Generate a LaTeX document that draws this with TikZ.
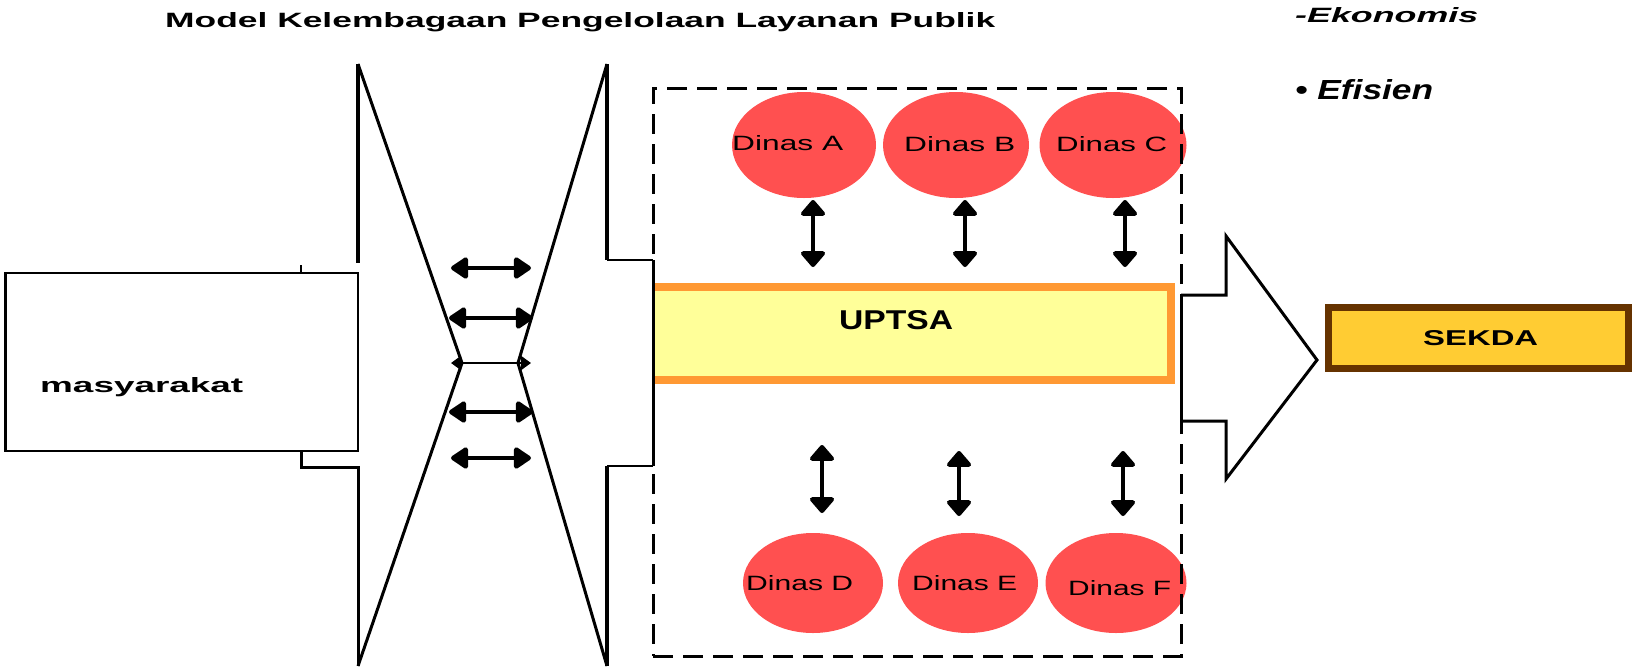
\documentclass[tikz,border=0pt]{standalone}
\usepackage{fontspec}
\setmainfont{Liberation Sans}
\usepackage{graphicx}
\usetikzlibrary{arrows.meta,shapes.geometric}
\definecolor{dinasred}{HTML}{FF5050}
\definecolor{uyellow}{HTML}{FFFF99}
\definecolor{uorange}{HTML}{FF9933}
\definecolor{sgold}{HTML}{FFCC33}
\definecolor{sbrown}{HTML}{663300}
\newcommand{\rtext}[3]{\resizebox{#1pt}{#2pt}{#3}}
\begin{document}
\begin{tikzpicture}[x=1pt,y=-1pt,
  txt/.style={inner sep=0pt, anchor=base west},
  thickline/.style={line width=4.5pt},
  outline/.style={line width=2pt},
  diag/.style={line width=3pt, line join=round},
  dinas/.style={ellipse, fill=dinasred, inner sep=0pt},
  varrow/.style={line width=4.5pt, {Triangle[width=28pt,length=17pt,round]}-{Triangle[width=28pt,length=17pt,round]}},
  harrow/.style={line width=4.5pt, {Triangle[width=24pt,length=19pt,round]}-{Triangle[width=24pt,length=19pt,round]}},
  thinarrow/.style={line width=2pt, {Triangle[width=14pt,length=10pt]}-{Triangle[width=14pt,length=10pt]}},
  dashbox/.style={draw, line width=3pt, dash pattern=on 20pt off 10pt, inner sep=0pt},
]
\useasboundingbox (0,0) rectangle (1632,670);

% title and side notes
\node[txt] (title) at (165,27) {\rtext{830}{15}{\bfseries Model Kelembagaan Pengelolaan Layanan Publik}};
\node[txt] (eko) at (1295,22) {\rtext{183}{15}{\bfseries\itshape -Ekonomis}};
\node[txt] (efi) at (1295,99) {\rtext{138}{20}{\bfseries\itshape • Efisien}};

% left block arrow (masyarakat)
\draw[thickline] (358,64) -- (358,263);
\draw[outline] (301,265) -- (301,273);
\draw[line width=3pt] (301,451) -- (301,467) -- (358,467) -- (358,666);
\draw[diag] (358,64) -- (462,363) -- (358,666);
\node[draw, outline, fill=white, inner sep=0pt, minimum width=353pt, minimum height=178pt] (masy) at (181.5,362) {};
\draw[line width=3pt] (5,273) -- (5,451);
\node[txt] (masyt) at (40,392) {\rtext{203}{15}{\bfseries masyarakat}};

% right block arrow (towards masyarakat)
\draw[thickline] (607,64) -- (607,260);
\draw[line width=2.5pt] (607,260) -- (653,260);
\draw[line width=2.5pt] (653,466) -- (607,466);
\draw[thickline] (607,466) -- (607,666);
\draw[diag] (607,64) -- (518,363) -- (607,666);

% horizontal double arrows in the waist
\coordinate (h1l) at (451,268); \coordinate (h1r) at (531,268);
\coordinate (h2l) at (449,318); \coordinate (h2r) at (533,318);
\coordinate (h3l) at (451,363); \coordinate (h3r) at (531,363);
\coordinate (h4l) at (449,412); \coordinate (h4r) at (533,412);
\coordinate (h5l) at (451,458); \coordinate (h5r) at (531,458);
\draw[harrow] (h1l) -- (h1r);
\draw[harrow] (h2l) -- (h2r);
\draw[thinarrow] (h3l) -- (h3r);
\draw[harrow] (h4l) -- (h4r);
\draw[harrow] (h5l) -- (h5r);

% Dinas ellipses
\node[dinas, minimum width=144pt, minimum height=106pt] (dA) at (804,145) {};
\node[dinas, minimum width=146pt, minimum height=106pt] (dB) at (956,145) {};
\node[dinas, minimum width=147pt, minimum height=106pt] (dC) at (1113,145) {};
\node[dinas, minimum width=140pt, minimum height=100pt] (dD) at (813,583) {};
\node[dinas, minimum width=140pt, minimum height=100pt] (dE) at (968,583) {};
\node[dinas, minimum width=141pt, minimum height=100pt] (dF) at (1116,583) {};
\node[txt] (tA) at (732,150) {\rtext{111}{15}{Dinas A}};
\node[txt] (tB) at (904,151) {\rtext{111}{15}{Dinas B}};
\node[txt] (tC) at (1056,151) {\rtext{111}{15}{Dinas C}};
\node[txt] (tD) at (746,590) {\rtext{107}{15}{Dinas D}};
\node[txt] (tE) at (912,590) {\rtext{105}{15}{Dinas E}};
\node[txt] (tF) at (1068,595) {\rtext{103}{15}{Dinas F}};

% UPTSA
\node[fill=uyellow, inner sep=0pt, minimum width=522pt, minimum height=101pt] (uptsa) at (914,333.5) {};
\draw[line width=8pt, uorange] (653,287) -- (1171,287) -- (1171,380) -- (653,380);
\node[txt] (uptsat) at (839,329) {\rtext{114}{19}{\bfseries UPTSA}};

% dashed panel
\node[dashbox, minimum width=528pt, minimum height=568pt] (panel) at (917,372) {};
\draw[line width=3pt] (653,260) -- (653,466);
\draw[line width=3pt] (1181,295) -- (1181,421);

% vertical double arrows
\coordinate (vAt) at (813,200);  \coordinate (vAb) at (813,267);
\coordinate (vBt) at (965,200);  \coordinate (vBb) at (965,267);
\coordinate (vCt) at (1125,200); \coordinate (vCb) at (1125,267);
\coordinate (vDt) at (822,445);  \coordinate (vDb) at (822,513);
\coordinate (vEt) at (959,451);  \coordinate (vEb) at (959,516);
\coordinate (vFt) at (1123,451); \coordinate (vFb) at (1123,516);
\draw[varrow] (vAt) -- (vAb);
\draw[varrow] (vBt) -- (vBb);
\draw[varrow] (vCt) -- (vCb);
\draw[varrow] (vDt) -- (vDb);
\draw[varrow] (vEt) -- (vEb);
\draw[varrow] (vFt) -- (vFb);

% right block arrow to SEKDA
\draw[line width=3pt, line join=miter] (1181,295) -- (1226,295) -- (1226,236) -- (1317,360) -- (1226,479) -- (1226,421) -- (1181,421);

% SEKDA
\node[draw=sbrown, line width=7pt, fill=sgold, inner sep=0pt, minimum width=300pt, minimum height=61pt] (sekda) at (1478.5,338) {};
\node[txt] (sekdat) at (1423,345) {\rtext{115}{15}{\bfseries SEKDA}};
\end{tikzpicture}
\end{document}
